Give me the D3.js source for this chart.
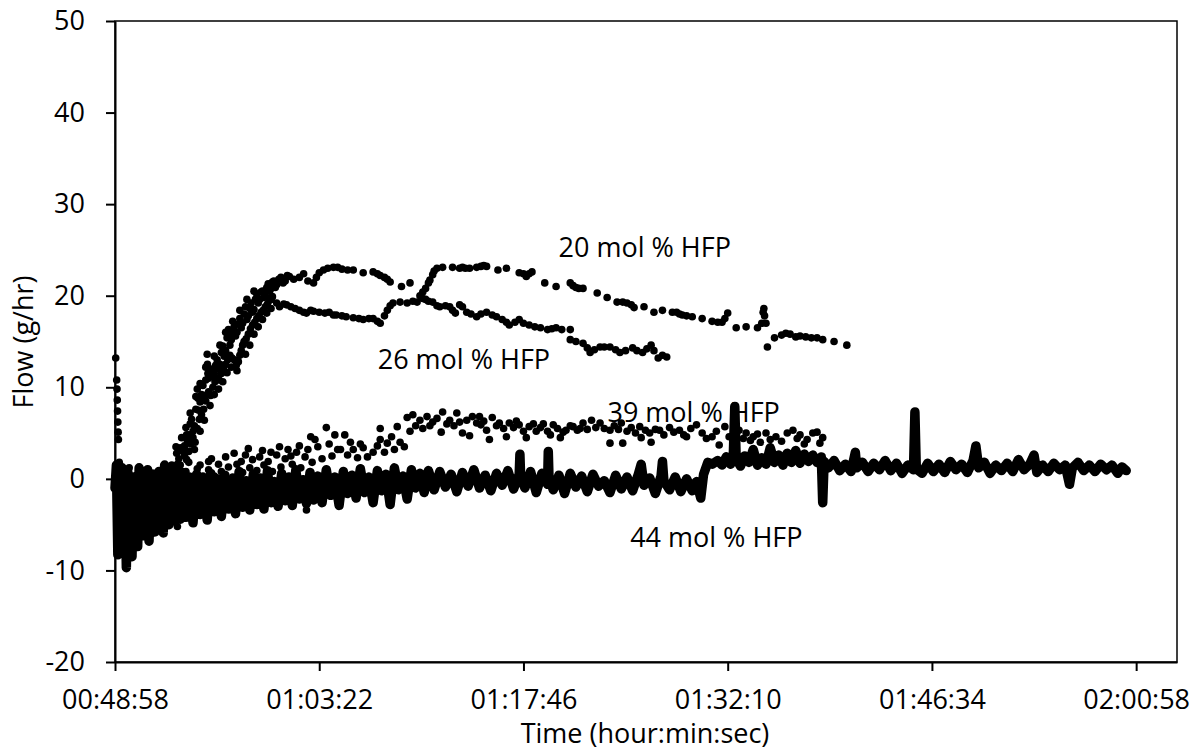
<!DOCTYPE html>
<html>
<head>
<meta charset="utf-8">
<script src="https://cdn.jsdelivr.net/npm/d3@7"></script>
<style>
  body { margin: 0; background: #fff; }
  svg text { font-family: "Open Sans", sans-serif; fill: #000; }
</style>
</head>
<body>
<svg id="chart" width="1204" height="751"></svg>
<script>
// Elapsed minutes after 00:48:58 and flow (g/hr)
const hfp20 = [
  [0.05,13.2],[0.12,10.8],[0.14,9.8],[0.16,8.6],[0.18,7.4],[0.2,6.2],[0.22,5.1],[0.24,4.3],
  [0.6,-2],[1.2,-3],[1.8,-1.5],[2.4,-2.5],[3.0,-1],[3.3,-0.3],
  [3.6,-1],[3.7,0.2],[3.8,0.5],[3.9,-0.5],[4.0,1.5],[4.1,0.2],[4.2,0.8],[4.3,3.5],[4.35,2.8],[4.4,1.6],
  [4.5,2.2],[4.6,3.4],[4.7,4.5],[4.8,3],[4.9,3.6],[5.0,5.6],[5.05,4.8],[5.1,4.2],[5.2,4.8],[5.3,6],
  [5.4,6.5],[5.5,5.2],[5.6,5.8],[5.7,7.6],[5.8,9.8],[5.85,8.8],[5.9,7.5],[6.0,8.4],[6.1,9.2],[6.2,10.2],
  [6.3,8.6],[6.4,10.8],[6.5,13.6],[6.52,12.5],[6.55,11.5],[6.6,11],[6.7,11.8],[6.8,12],[6.9,11.2],[7.0,11.5],
  [7.1,12.4],[7.2,13],[7.3,12],[7.4,12.5],[7.5,13.8],[7.6,14.5],[7.7,13.4],[7.8,14],[7.9,15.4],[8.0,16.3],
  [8.05,15.5],[8.1,14.6],[8.2,15.2],[8.3,16],[8.4,16.6],[8.5,15.6],[8.6,16],[8.7,16.9],[8.8,17.5],[8.9,16.5],
  [9.0,17],[9.1,18],[9.2,18.8],[9.3,17.4],[9.4,17.8],[9.5,18.6],[9.6,19.2],[9.7,18.2],[9.8,18.5],[9.9,19.6],
  [10.0,20.2],[10.1,19.2],[10.2,19.6],[10.3,20.4],[10.4,20.5],[10.5,19.8],[10.6,20],[10.7,20.9],[10.8,21.3],
  [10.9,20.5],[11.0,20.8],[11.1,21.5],[11.2,21.6],[11.3,20.9],[11.4,21.2],[11.55,21.8],[11.7,22],[11.85,21.4],
  [12.0,21.6],[12.15,22.2],[12.3,22.1],
  [5.3,7.2],[5.7,9],[6.0,10.4],[6.4,12.2],[7.0,13.4],[7.4,14.6],[7.8,16],[8.3,17.2],[8.8,18.4],[9.3,19.6],[9.8,20.5],
  [12.6,21.8],[13.0,22],[13.3,22.4],[13.6,21.6],[14.0,21.4],[14.2,22],[14.4,22.5],[14.7,22.8],[15.0,23],
  [15.4,23.1],[15.7,23.1],[16.0,22.9],[16.4,22.8],[16.8,22.8],[17.5,22.5],[18.2,22.6],[18.5,22.4],[18.7,22.2],
  [19.0,22],[19.2,21.8],[19.4,21.5],[20.2,21],[20.8,21.4],[21.5,20],[21.7,20.4],[21.9,20.8],[22.1,21.4],
  [22.2,21.7],[22.4,22.3],[22.5,22.7],[22.7,23],[23.1,23.1],[23.8,23.1],[24.3,23],[24.5,23.1],[24.7,23],
  [25,23],[25.5,23.1],[25.8,23.2],[26,23.3],[26.2,23.2],[27,22.8],[27.6,23],[28.5,22.5],[28.8,22.4],[29,22.1],
  [29.2,22.4],[29.4,22.6],[30.3,21.4],[31.1,21],[32.1,21.4],[32.3,21.1],[32.5,20.9],[32.7,20.8],[33,20.8],
  [34,20.3],[34.7,19.8],[35.4,19.3],[35.8,19.3],[36.1,19.2],[36.4,19],[36.6,18.7],[37.3,18.8],[38,18.2],
  [38.6,18.4],[39.3,18.2],[39.6,18.2],[39.8,18],[40,17.9],[40.3,17.8],[40.7,17.7],[41.4,17.5],[42.1,17.2],
  [42.5,17.1],[42.8,17.1],[43,17.5],[43.2,18.1],[43.8,16.5],[44.5,16.6],[45.3,16.5],[45.6,17],[45.7,18.2],
  [45.75,18.6],[45.8,17.8],[45.9,17],[46,14.4],[46.5,15.4],[47,15.7],[47.3,15.9],[47.6,15.8],[48,15.5],
  [48.3,15.6],[48.7,15.5],[49.1,15.4],[49.5,15.4],[49.9,15.2],[50.7,15],[51.6,14.6]
];

const hfp26 = [
  [0.4,-1],[1.0,-2.5],[1.6,-0.5],[2.2,-3],[2.8,-1.2],[3.4,-2],
  [4.0,-1],[4.15,0.2],[4.3,0.5],[4.45,1.2],[4.6,1.5],[4.75,0.8],[4.9,2.5],[5.05,2.1],[5.2,3],[5.35,3.8],
  [5.5,4.5],[5.65,4],[5.8,5.5],[5.95,6.5],[6.1,7],[6.25,7.6],[6.4,8.5],[6.5,9.2],[6.6,9.5],[6.75,9.1],
  [6.9,10],[7.05,10.6],[7.2,11],[7.35,10.8],[7.5,11.5],[7.65,12.2],[7.8,12.5],[7.95,13],[8.1,13.5],[8.25,13.2],
  [8.4,13],[8.55,12.4],[8.7,12.8],[8.8,13.5],[8.9,14],[9.0,14.6],[9.1,15],[9.25,15.3],[9.4,15.8],[9.55,16.4],
  [9.7,16.8],[9.85,17.1],[10.0,17.5],[10.15,17.8],[10.3,18.2],[10.45,18.4],[10.6,18.8],[10.75,19.1],[10.9,19.5],
  [11.0,19.6],[11.1,19.9],
  [5.6,3.2],[6.0,5.2],[6.3,6.4],[6.7,8],[7.0,9.2],[7.3,9.8],[7.6,10.6],[7.9,11.6],[8.2,12.2],[8.6,11.8],
  [9.2,13.6],[9.5,14.6],[9.8,15.8],[10.1,16.6],[10.4,17.4],[10.7,18.1],[11.0,18.6],
  [11.4,19.2],[11.6,18.8],[11.9,19.1],[12.1,19],[12.4,18.8],[12.7,18.6],[13.0,18.4],[13.3,18.2],[13.5,18.1],
  [13.8,18.4],[14.0,18.3],[14.4,18.2],[14.8,18.1],[15.1,18.2],[15.4,17.9],[15.6,17.9],[16.0,17.8],[16.3,17.7],
  [16.8,17.6],[17.2,17.5],[17.5,17.4],[17.9,17.5],[18.2,17.5],[18.5,17.2],[18.7,17],[19.0,17.8],[19.2,18.4],
  [19.4,18.9],[19.6,19.2],[20.1,19.3],[20.6,19.2],[21.0,19.4],[21.3,19.3],[21.7,19.7],[21.9,19.6],[22.1,19.4],
  [22.4,19.3],[22.7,18.9],[22.9,18.8],[23.3,18.9],[23.6,18.8],[23.8,18.4],[24.0,18.1],[24.3,19],[24.5,18.8],
  [24.8,18.2],[25.1,18],[25.5,17.7],[25.8,18],[26.2,18.2],[26.6,17.9],[26.9,17.7],[27.3,17.4],[27.6,17.1],
  [27.8,16.8],[28.2,17.1],[28.5,17.4],[28.8,17],[29.2,16.8],[29.6,16.6],[30.0,16.5],[30.5,16.3],[30.8,16.4],
  [31.1,16.5],[31.5,16.3],[32.1,16.3],[32.1,15.2],[32.5,15],[33.0,14.8],[33.3,14.3],[33.5,13.8],[33.8,14.1],
  [34.2,14.4],[34.5,14.4],[34.9,14.4],[35.3,14.1],[35.6,13.8],[36.0,14],[36.5,14.3],[36.8,14],[37.2,13.8],
  [37.5,14.2],[37.8,14.6],[38.0,14],[38.3,13.2],[38.6,13.5],[38.9,13.3]
];

const hfp39 = [
  [0.3,1.8],[0.6,0.9],[1.0,1.2],[1.4,0.2],[1.8,1.0],[2.2,-0.5],[2.6,0.6],[3.0,-0.8],[3.4,0.9],[3.8,-0.3],
  [4.2,0.4],[4.4,-5.2],[4.6,-0.6],[5.0,0.8],[5.4,-0.2],[5.8,1.1],[6.2,0.3],[6.6,1.9],[6.6,1.0],[7.0,0.3],
  [7.5,0.8],[8.0,1.3],[8.3,0.2],[8.6,1.6],[9.0,0.7],[9.2,2.6],[9.5,1.2],[9.7,2.1],[10.0,0.9],[10.2,2.4],
  [10.5,1.5],[10.8,1.9],[11.1,0.8],[11.4,2.6],[11.7,1.3],[12.0,2.2],[12.2,3.2],[12.5,1.6],[12.8,2.9],[13.1,1.2],
  [13.4,2.4],[13.5,-3.4],[13.6,3.2],[13.9,1.8],[14.1,4.3],[14.3,3.5],[14.6,2.2],[14.9,5.6],[15.1,3.8],[15.3,2.5],
  [5.2,1.8],[6.0,1.5],[6.8,2.2],[7.3,1.6],[7.8,2.4],[8.4,2.8],[8.9,1.9],[9.4,3.3],[10.4,3.1],[11.0,2.9],
  [11.6,3.5],[12.4,2.5],[13.0,3.6],[13.8,4.6],
  [15.5,4.8],[15.7,3.2],[15.9,3.2],[16.2,4.8],[16.4,2.6],[16.6,4],[16.8,3.2],[17.1,2.3],[17.3,3.8],[17.5,3.4],
  [17.8,2.4],[18.2,2.9],[18.5,3.6],[18.7,4.3],[18.7,5.5],[19.0,2.9],[19.2,3.9],[19.5,4.6],[19.7,3.2],[19.9,5.7],
  [20.1,4],[20.4,3.5],[20.6,6.7],[20.8,5.2],[21,7],[21.2,5.8],[21.5,6.4],[21.7,5.5],[22,6.8],[22.2,5.8],
  [22.4,6.2],[22.7,6.6],[23,5.1],[23.1,7.3],[23.4,6],[23.6,6.4],[23.9,5.8],[24.1,7.2],[24.3,6.2],[24.5,5],
  [24.8,6.4],[25,4.7],[25.2,6.8],[25.5,6.1],[25.7,6.8],[25.8,5.9],[26,6.3],[26.2,5.3],[26.4,4.3],[26.6,6.7],
  [26.9,5.8],[27.1,6.1],[27.4,5.5],[27.6,4.6],[27.8,6.1],[28.1,5.6],[28.3,6.3],[28.5,5.9],[28.8,5.2],[29,4.5],
  [29.2,5.7],[29.5,6],[29.7,5.2],[30,5.6],[30.2,6],[30.5,5.2],[30.7,4.8],[30.9,5.9],[31.2,5.5],[31.4,4.5],
  [31.6,5.1],[31.8,5.3],[32.1,5.8],[32.3,5.7],[32.6,5.3],[32.8,5.5],[33,6.1],[33.3,5.4],[33.6,6.4],[33.9,5.6],
  [34.2,6.1],[34.5,5.5],[34.9,5.3],[34.9,3.9],[35.2,5.8],[35.5,5.4],[35.7,6.1],[35.8,3.9],[36.1,5.2],[36.4,5.6],
  [36.7,5],[37,5.7],[37.1,4.5],[37.4,5.3],[37.7,5],[37.8,4],[38.1,5.4],[38.4,5.3],[38.7,4.8],[39.1,5.6],
  [39.4,5.1],[39.8,5.3],[40.1,4.8],[40.3,4.6],[40.6,5.5],[41,5.9],[41.4,5],[41.7,4.4],[42.1,4.6],[42.4,5.2],
  [42.6,3.7],[43,5.7],[43.3,4.6],[43.6,4.8],[44,5.3],[44.3,4.4],[44.5,5],[44.8,4.2],[45,4.6],[45.3,4.9],
  [45.5,4],[45.9,5],[46.2,4.3],[46.6,4.6],[47,4.1],[47.4,5],[47.8,5.3],[48.1,4.4],[48.3,4.8],[48.6,3.8],
  [48.8,4.3],[49.2,5],[49.5,5.1],[49.7,3.9],[49.9,4.5]
];

const hfp44 = [
  [0.0,-1],[0.1,1.5],[0.2,-8.3],[0.3,0.5],[0.4,-6],[0.5,1.2],[0.6,-7],[0.7,-0.5],[0.8,-9.7],[0.9,0.8],
  [1.0,-5.5],[1.1,-1],[1.2,-8.5],[1.3,0.2],[1.4,-6.5],[1.5,-0.5],[1.6,-7.4],[1.7,1.2],[1.8,-5],[1.9,-1.5],
  [2.0,-6.2],[2.1,0.3],[2.2,-5.5],[2.3,1],[2.4,-6.8],[2.5,-0.8],[2.6,-4.8],[2.7,0.5],[2.8,-5.8],[2.9,-1],
  [3.0,-5.2],[3.1,0.8],[3.2,-4.5],[3.3,-0.5],[3.4,-5.9],[3.5,1.5],[3.6,-4.2],[3.7,0.5],[3.8,-5],[3.9,-0.8],
  [4.0,-4],[4.1,1],[4.2,-4.6],[4.3,0],[4.4,-3.8],[4.5,0.6],[4.6,-4.4],[4.7,-0.5],[4.8,-3.6],[4.9,0.3],
  [5.0,-4.2],[5.25,0.2],[5.5,-4.8],[5.75,0.5],[6.0,-3.9],[6.25,-0.3],[6.5,-4.5],[6.75,0.6],[7.0,-3.6],[7.25,0],
  [7.5,-4.1],[7.75,0.4],[8.0,-3.3],[8.25,-0.5],[8.5,-3.8],[8.75,0.8],[9.0,-3.1],[9.25,-0.2],[9.5,-3.4],[9.75,0.5],
  [10.0,-2.8],[10.25,0.1],[10.5,-3.3],[10.75,0.9],[11.0,-2.6],[11.25,-0.3],[11.5,-3],[11.75,0.6],[12.0,-2.4],
  [12.25,0.2],[12.5,-2.9],[12.75,1],[13.0,-2.2],[13.25,-0.1],[13.5,-2.7],[13.75,0.7],[14.0,-2.3],
  [14.3,0.3],[14.6,-2.6],[14.9,1],[15.2,-1.8],[15.5,0.2],[15.8,-2.9],[16.1,0.8],[16.4,-1.6],[16.7,0.4],[17.0,-2.1],
  [17.3,1.1],[17.6,-1.5],[17.9,0.2],[18.2,-2.6],[18.5,0.9],[18.8,-1.3],[19.1,0.5],[19.4,-2.8],[19.7,1.2],[20.0,-1.2],
  [20.3,0.3],[20.6,-2.2],[20.9,1],[21.2,-1],[21.5,0.6],[21.8,-1.5],[22.1,0.9],
  [22.5,-1.2],[22.9,0.8],[23.3,-0.9],[23.7,0.5],[24.1,-1.4],[24.5,0.7],[24.9,-0.8],[25.3,1],[25.7,-1],[26.1,0.4],
  [26.5,-1.3],[26.9,0.6],[27.3,-0.7],[27.7,0.9],[28.1,-1.1],[28.5,0.5],[28.55,2.7],[28.6,0.3],[28.9,-1],[29.3,0.8],
  [29.7,-1.5],[30.1,0.6],[30.5,-0.6],[30.55,3],[30.6,0.2],[30.9,-1.2],[31.3,0.4],[31.7,-1.6],[32.1,0.6],[32.5,-0.9],
  [32.9,0.3],[33.3,-1.4],[33.7,0.5],[34.1,-0.8],[34.5,-0.2],[34.9,-1.5],[35.3,0.4],[35.7,-1.1],[36.1,0.2],[36.5,-1.3],
  [36.9,0.5],[37.1,1.6],[37.3,-0.7],[37.7,0.1],[38.1,-1.6],[38.5,0.3],[38.6,1.9],[38.7,-0.2],[39.1,-1.2],[39.5,0.2],
  [39.9,-1.4],[40.3,0],[40.7,-1.3],[41.0,-0.3],[41.3,-2.1],[41.5,0.5],[41.8,1.8],[42.1,1.6],[42.5,2],[42.8,1.5],
  [43.1,2.4],[43.4,1.6],[43.6,2.8],[43.7,7.9],[43.8,2.2],[44.1,1.4],[44.4,2.5],[44.7,1.8],[45.0,3.2],[45.3,1.5],
  [45.6,2.3],[45.9,1.6],[46.2,3.4],[46.5,1.8],[46.8,2.6],[47.1,1.5],[47.4,2.8],[47.7,1.8],[48.0,3.1],[48.3,1.7],
  [48.6,2.7],[48.9,1.9],[49.2,2.6],[49.5,1.8],[49.8,2.4],[49.9,-2.6],[50.0,1.9],[50.3,1.2],[50.7,2],[51.1,0.9],
  [51.5,1.6],[51.9,0.8],[52.2,2.9],[52.3,1.2],[52.7,1.8],[53.1,0.8],[53.5,1.7],[53.9,1],[54.3,2],[54.7,0.9],
  [55.1,1.7],[55.5,0.6],[55.9,1.5],[56.3,1],[56.4,7.3],[56.5,1.1],[56.9,0.6],[57.3,1.7],[57.7,0.8],[58.1,1.6],
  [58.5,0.7],[58.9,1.9],[59.3,1],[59.7,1.6],[60.1,0.7],[60.5,2],[60.7,3.6],[60.9,1.2],[61.3,1.8],[61.7,0.6],
  [62.1,1.5],[62.5,0.9],[62.9,1.7],[63.3,0.8],[63.7,2.1],[64.1,1],[64.5,1.6],[64.8,2.6],[65.0,0.7],[65.4,1.5],
  [65.8,0.8],[66.2,1.7],[66.6,1],[67.0,1.5],[67.3,-0.6],[67.5,1.2],[67.9,1.8],[68.3,0.9],[68.7,1.5],[69.1,0.8],
  [69.5,1.6],[69.9,1],[70.3,1.5],[70.7,0.6],[71.0,1.3],[71.3,0.9]
];

const yTicks = [-20, -10, 0, 10, 20, 30, 40, 50];
const xTicks = [0.034, 0.044, 0.054, 0.064, 0.074, 0.084]; // fraction of a day
const noteText = ['20 mol % HFP', '26 mol % HFP', '39 mol % HFP', '44 mol % HFP'];
const noteAt = [[37.35, 24.2], [24.6, 12.0], [40.8, 6.2], [42.4, -7.4]];

const startDay = 0.034;
const toDay = (m) => startDay + m / 1440;

const svg = d3.select('#chart');
const plotL = 115, plotR = 1177, plotT = 21, plotB = 662;

const x = d3.scaleLinear().domain([0.034, 0.086]).range([plotL, plotR]);
const y = d3.scaleLinear().domain([-20, 50]).range([plotB, plotT]);

// hh:mm:ss from day fraction
function fmtTime(d) {
  const s = Math.round(d * 86400);
  const p = (n) => String(n).padStart(2, '0');
  return `${p(Math.floor(s / 3600))}:${p(Math.floor(s / 60) % 60)}:${p(s % 60)}`;
}

// plot frame
svg.append('rect')
  .attr('x', plotL).attr('y', plotT)
  .attr('width', plotR - plotL).attr('height', plotB - plotT)
  .attr('fill', 'none').attr('stroke', '#000').attr('stroke-width', 1.5);

const xAxis = svg.append('g')
  .attr('transform', `translate(0,${plotB})`)
  .call(d3.axisBottom(x).tickValues(xTicks).tickFormat(fmtTime).tickSize(9).tickSizeOuter(0));
xAxis.select('.domain').attr('stroke-width', 2);
xAxis.selectAll('line').attr('stroke-width', 2);
xAxis.selectAll('text').attr('font-size', 27).attr('font-family', '"Open Sans", sans-serif').attr('dy', '1.28em');

const yAxis = svg.append('g')
  .attr('transform', `translate(${plotL},0)`)
  .call(d3.axisLeft(y).tickValues(yTicks).tickFormat((d) => String(d))
    .tickSize(9).tickSizeOuter(0).tickPadding(21));
yAxis.select('.domain').attr('stroke-width', 2);
yAxis.selectAll('line').attr('stroke-width', 2);
yAxis.selectAll('text').attr('font-size', 27).attr('font-family', '"Open Sans", sans-serif');

// 44 mol % series: markers so dense they read as a thick noisy line
svg.append('path')
  .datum(hfp44)
  .attr('fill', 'none')
  .attr('stroke', '#000')
  .attr('stroke-width', 9.5)
  .attr('stroke-linejoin', 'round')
  .attr('stroke-linecap', 'round')
  .attr('d', d3.line().x((d) => x(toDay(d[0]))).y((d) => y(d[1])));

[hfp39, hfp26, hfp20].forEach((series) => {
  svg.append('g')
    .selectAll('circle')
    .data(series)
    .join('circle')
    .attr('cx', (d) => x(toDay(d[0])))
    .attr('cy', (d) => y(d[1]))
    .attr('r', 3.8)
    .attr('fill', '#000');
});

// series labels
noteText.forEach((t, i) => {
  svg.append('text')
    .attr('x', x(toDay(noteAt[i][0])))
    .attr('y', y(noteAt[i][1]))
    .attr('text-anchor', 'middle')
    .attr('font-size', 27)
    .text(t);
});

// axis titles
svg.append('text')
  .attr('x', 645).attr('y', 743)
  .attr('text-anchor', 'middle')
  .attr('font-size', 27)
  .text('Time (hour:min:sec)');

svg.append('text')
  .attr('transform', 'translate(33,342) rotate(-90)')
  .attr('text-anchor', 'middle')
  .attr('font-size', 27)
  .text('Flow (g/hr)');
</script>
</body>
</html>
